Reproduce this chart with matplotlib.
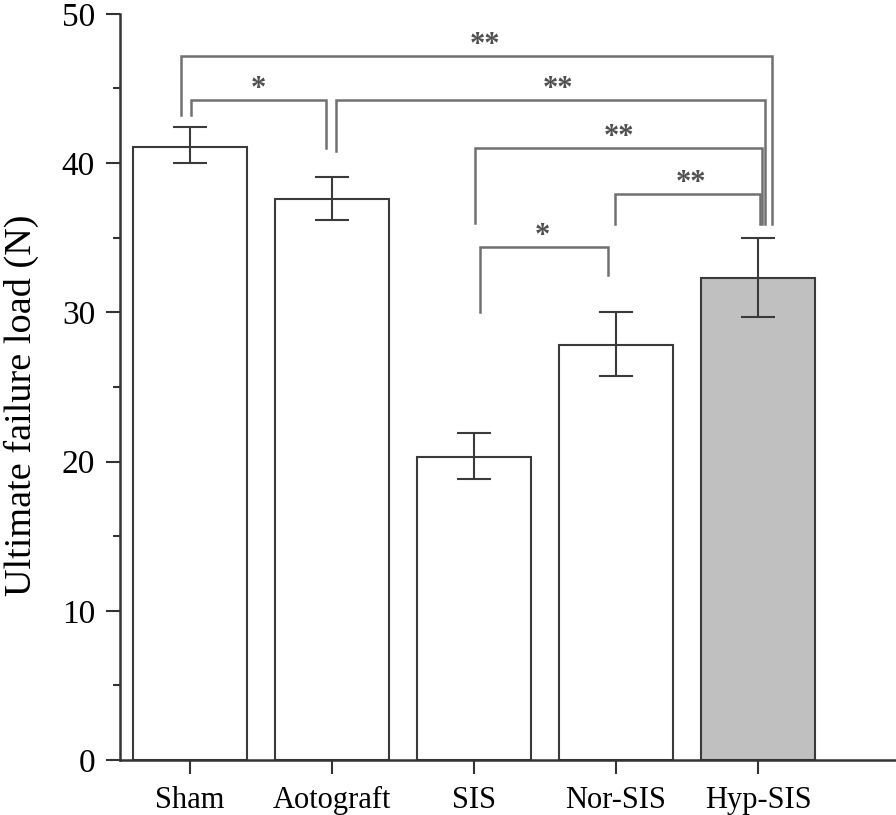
import matplotlib
matplotlib.use("Agg")
import matplotlib.pyplot as plt
from matplotlib.ticker import MultipleLocator

# ---- data ----
categories = ["Sham", "Aotograft", "SIS", "Nor-SIS", "Hyp-SIS"]
means = [41.1, 37.6, 20.3, 27.8, 32.3]
err_low = [40.0, 36.2, 18.8, 25.7, 29.7]
err_high = [42.4, 39.1, 21.9, 30.0, 35.0]

# significance comparisons: (group a, group b, label)
comparisons = [
    (0, 4, "**"),
    (0, 1, "*"),
    (1, 4, "**"),
    (2, 4, "**"),
    (3, 4, "**"),
    (2, 3, "*"),
]

plt.rcParams["font.family"] = ["Liberation Serif", "DejaVu Serif"]

fig = plt.figure(figsize=(8.96, 8.15), dpi=100)
ax = fig.add_axes([0.134, 0.0675, 0.866, 0.9155])

x = list(range(len(categories)))
fills = ["white", "white", "white", "white", "#c0c0c0"]
ax.bar(x, means, width=0.8, color=fills, edgecolor="#3a3a3a", linewidth=1.5, zorder=2)
yerr = [[m - l for m, l in zip(means, err_low)], [h - m for m, h in zip(means, err_high)]]
ax.errorbar(x, means, yerr=yerr, fmt="none", ecolor="#3a3a3a", elinewidth=1.5,
            capsize=12, capthick=1.5, zorder=3)

# bracket geometry (layout, in data coordinates)
bracket_style = [
    # (x_left, x_right, y_top, y_left_bottom, y_right_bottom, text_x, text_y)
    (-0.06, 4.10, 47.2, 43.2, 35.9, 2.08, 47.9),
    (0.01, 0.96, 44.2, 43.2, 41.0, 0.48, 44.9),
    (1.03, 4.05, 44.2, 40.8, 35.9, 2.59, 44.9),
    (2.01, 4.03, 41.0, 36.0, 35.9, 3.02, 41.7),
    (2.99, 4.01, 37.9, 35.9, 35.9, 3.53, 38.6),
    (2.04, 2.94, 34.4, 30.0, 32.5, 2.48, 35.1),
]
for (a, b, lab), (xl, xr, yt, ylb, yrb, tx, ty) in zip(comparisons, bracket_style):
    ax.plot([xl, xl, xr, xr], [ylb, yt, yt, yrb], color="#707070", lw=1.8,
            solid_joinstyle="miter", zorder=4, clip_on=False)
    ax.text(tx, ty, lab, ha="center", va="center", fontsize=22, color="#505050",
            fontweight="bold")

ax.set_xlim(-0.49, 4.97)
ax.set_ylim(0, 50)
ax.set_xticks(x)
ax.set_xticklabels(categories, fontsize=22)
ax.yaxis.set_major_locator(MultipleLocator(10))
ax.yaxis.set_minor_locator(MultipleLocator(5))
ax.tick_params(axis="y", which="major", direction="out", length=10, width=1.5,
               color="#333333", labelsize=24, pad=8)
ax.tick_params(axis="y", which="minor", direction="out", length=5, width=1.5, color="#333333")
ax.tick_params(axis="x", which="major", direction="out", length=10, width=1.5,
               color="#333333", pad=9)
ax.set_ylabel("Ultimate failure load (N)", fontsize=27.5, labelpad=16)
ax.yaxis.set_label_coords(-0.105, 0.476)

for s in ["top", "right"]:
    ax.spines[s].set_visible(False)
for s in ["left", "bottom"]:
    ax.spines[s].set_linewidth(1.8)
    ax.spines[s].set_color("#333333")

fig.savefig("out.png", dpi=100)
